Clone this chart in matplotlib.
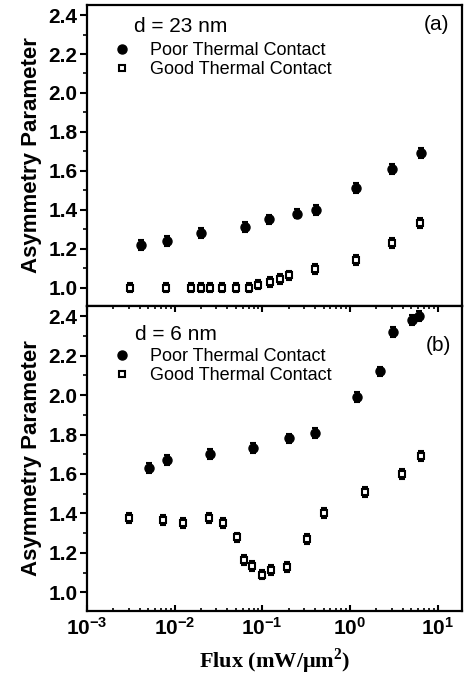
import numpy as np
import matplotlib
matplotlib.use('Agg')
import matplotlib.pyplot as plt
from matplotlib.ticker import MultipleLocator, LogLocator, NullFormatter
from matplotlib.lines import Line2D

plt.rcParams['font.family'] = ['Liberation Sans', 'DejaVu Sans']
plt.rcParams['font.weight'] = 'bold'
plt.rcParams['mathtext.fontset'] = 'custom'
plt.rcParams['mathtext.rm'] = 'Liberation Serif:bold'
plt.rcParams['mathtext.bf'] = 'Liberation Serif:bold'

# (a) d = 23 nm
poor_a_x = [0.0041, 0.0082, 0.020, 0.064, 0.12, 0.25, 0.41, 1.18, 3.0, 6.4]
poor_a_y = [1.22, 1.24, 1.28, 1.31, 1.35, 1.38, 1.40, 1.51, 1.61, 1.69]
poor_a_err = [0.025] * 10
good_a_x = [0.0031, 0.0079, 0.0152, 0.020, 0.025, 0.035, 0.050, 0.070, 0.090,
            0.122, 0.159, 0.20, 0.40, 1.18, 3.06, 6.3]
good_a_y = [1.0, 1.0, 1.0, 1.0, 1.0, 1.0, 1.0, 1.0, 1.015, 1.028, 1.045, 1.062,
            1.095, 1.14, 1.23, 1.33]
good_a_err = [0.025] * 16

# (b) d = 6 nm
poor_b_x = [0.0051, 0.0081, 0.025, 0.079, 0.20, 0.40, 1.20, 2.23, 3.08, 5.1, 6.2]
poor_b_y = [1.63, 1.67, 1.70, 1.73, 1.78, 1.81, 1.99, 2.12, 2.32, 2.38, 2.40]
poor_b_err = [0.025] * 11
good_b_x = [0.0030, 0.0074, 0.0123, 0.0248, 0.0352, 0.051, 0.062, 0.0757, 0.100,
            0.126, 0.190, 0.321, 0.507, 1.49, 3.96, 6.4]
good_b_y = [1.375, 1.367, 1.35, 1.375, 1.35, 1.278, 1.162, 1.133, 1.09, 1.113,
            1.128, 1.27, 1.40, 1.51, 1.60, 1.69]
good_b_err = [0.025] * 16

fig = plt.figure(figsize=(4.66, 6.75), dpi=100)
L, R = 87 / 466, 462 / 466
ax1 = fig.add_axes([L, 1 - 306 / 675, R - L, 301 / 675])
ax2 = fig.add_axes([L, 1 - 611 / 675, R - L, 305 / 675])

def draw(ax, px, py, pe, gx, gy, ge):
    ax.errorbar(px, py, yerr=pe, fmt='o', color='black', ms=6.5, capsize=2.5,
                elinewidth=1.5, capthick=1.5)
    ax.errorbar(gx, gy, yerr=ge, fmt='s', color='black', mfc='white', mec='black',
                mew=1.5, ms=5, capsize=2.5, elinewidth=1.5, capthick=1.5)
    ax.set_xscale('log')
    ax.set_xlim(1e-3, 19)
    ax.set_ylim(0.905, 2.452)
    ax.yaxis.set_major_locator(MultipleLocator(0.2))
    ax.yaxis.set_minor_locator(MultipleLocator(0.1))
    ax.xaxis.set_major_locator(LogLocator(base=10, numticks=10))
    ax.xaxis.set_minor_locator(LogLocator(base=10, subs=np.arange(2, 10), numticks=10))
    ax.xaxis.set_minor_formatter(NullFormatter())
    for s in ax.spines.values():
        s.set_linewidth(1.6)
    ax.tick_params(axis='y', which='major', direction='out', length=5, width=1.5,
                   labelsize=15, pad=2)
    ax.tick_params(axis='y', which='minor', direction='out', length=3, width=1.2)
    ax.tick_params(axis='x', which='major', direction='in', length=4, width=1.5,
                   labelsize=15, pad=4, top=True)
    ax.tick_params(axis='x', which='minor', direction='in', length=2.5, width=1.2,
                   top=True)
    ax.set_ylabel('Asymmetry Parameter', fontsize=16, fontweight='bold')
    ax.yaxis.set_label_coords(-0.12, 0.5)
    handles = [Line2D([], [], ls='none', marker='o', color='black', ms=6.5),
               Line2D([], [], ls='none', marker='s', mfc='white', mec='black',
                      mew=1.5, ms=5)]
    return handles

h = draw(ax1, poor_a_x, poor_a_y, poor_a_err, good_a_x, good_a_y, good_a_err)
ax1.tick_params(axis='x', which='both', bottom=False, top=False,
                labelbottom=False)
ax1.text(0.125, 0.93, 'd = 23 nm', transform=ax1.transAxes, fontsize=15,
         fontweight='normal', va='center', ha='left')
ax1.text(0.933, 0.934, '(a)', transform=ax1.transAxes, fontsize=15,
         fontweight='normal', va='center', ha='center')
ax1.legend(h, ['Poor Thermal Contact', 'Good Thermal Contact'], loc='upper left',
           bbox_to_anchor=(0.069, 0.877), frameon=False, borderpad=0,
           borderaxespad=0, handlelength=1.0, handletextpad=1.05,
           labelspacing=0.1, prop={'size': 13, 'weight': 'normal'})

h = draw(ax2, poor_b_x, poor_b_y, poor_b_err, good_b_x, good_b_y, good_b_err)
ax2.tick_params(axis='x', which='both', labeltop=False)
ax2.text(0.128, 0.908, 'd = 6 nm', transform=ax2.transAxes, fontsize=15,
         fontweight='normal', va='center', ha='left')
ax2.text(0.936, 0.869, '(b)', transform=ax2.transAxes, fontsize=15,
         fontweight='normal', va='center', ha='center')
ax2.legend(h, ['Poor Thermal Contact', 'Good Thermal Contact'], loc='upper left',
           bbox_to_anchor=(0.069, 0.862), frameon=False, borderpad=0,
           borderaxespad=0, handlelength=1.0, handletextpad=1.05,
           labelspacing=0.1, prop={'size': 13, 'weight': 'normal'})
ax2.set_xlabel('Flux (mW/\u03bcm$^{\\mathrm{2}}$)', fontsize=16,
               fontweight='bold', family='Liberation Serif', labelpad=6)

fig.savefig('out.png', dpi=100)
